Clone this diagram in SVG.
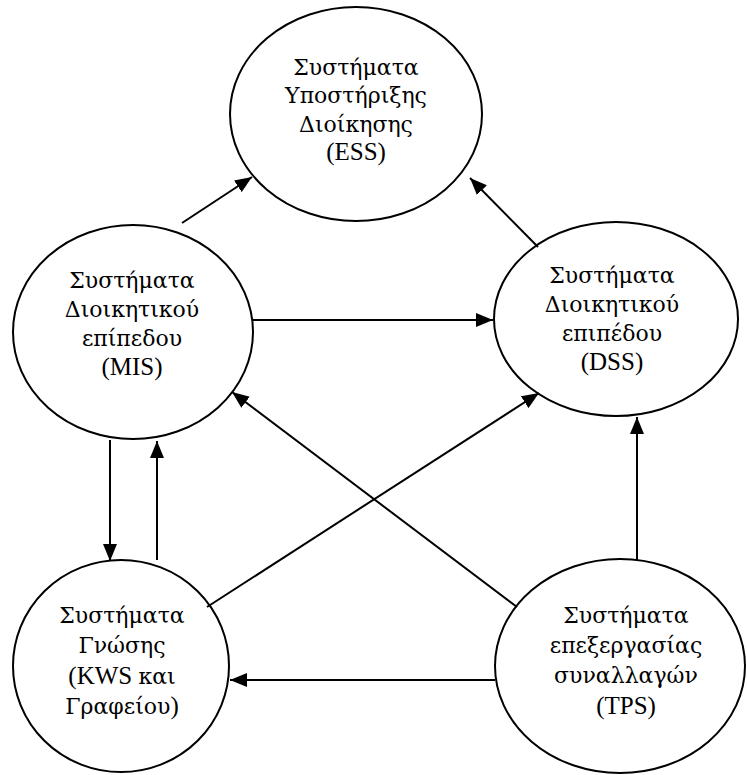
<svg xmlns="http://www.w3.org/2000/svg" width="747" height="775" viewBox="0 0 747 775">
  <style>
    .node ellipse { fill: #ffffff; stroke: #000000; stroke-width: 2; }
    .node text { font-family: "Liberation Serif", "DejaVu Serif", serif; font-size: 25px; fill: #000000; text-anchor: middle; }
    .node .gr { font-family: "DejaVu Serif", "Liberation Serif", serif; font-size: 22px; }
    .edges line { stroke: #000000; stroke-width: 2; marker-end: url(#arrow); }
  </style>
  <defs>
    <marker id="arrow" markerUnits="userSpaceOnUse" markerWidth="18" markerHeight="14" refX="17" refY="7" orient="auto">
      <path d="M0,0 L17,7 L0,14 z" fill="#000000"/>
    </marker>
  </defs>
  <rect width="747" height="775" fill="#ffffff"/>

  <g id="ess" class="node">
    <ellipse cx="356" cy="114" rx="126" ry="107"/>
    <text class="gr" x="356" y="75">Συστήματα</text>
    <text class="gr" x="356" y="103">Υποστήριξης</text>
    <text class="gr" x="356" y="132">Διοίκησης</text>
    <text x="356" y="160">(ESS)</text>
  </g>

  <g id="mis" class="node">
    <ellipse cx="133" cy="332" rx="120" ry="107"/>
    <text class="gr" x="132" y="288">Συστήματα</text>
    <text class="gr" x="132" y="317">Διοικητικού</text>
    <text class="gr" x="132" y="346">επίπεδου</text>
    <text x="132" y="375">(MIS)</text>
  </g>

  <g id="dss" class="node">
    <ellipse cx="616" cy="319" rx="122" ry="97"/>
    <text class="gr" x="612" y="283">Συστήματα</text>
    <text class="gr" x="612" y="312">Διοικητικού</text>
    <text class="gr" x="612" y="341">επιπέδου</text>
    <text x="612" y="370">(DSS)</text>
  </g>

  <g id="kws" class="node">
    <ellipse cx="121" cy="666" rx="108" ry="106"/>
    <text class="gr" x="122" y="623">Συστήματα</text>
    <text class="gr" x="122" y="653">Γνώσης</text>
    <text x="122" y="684">(KWS <tspan class="gr">και</tspan></text>
    <text class="gr" x="122" y="714">Γραφείου<tspan font-family="Liberation Serif" font-size="25">)</tspan></text>
  </g>

  <g id="tps" class="node">
    <ellipse cx="620" cy="666" rx="125" ry="107"/>
    <text class="gr" x="626" y="623">Συστήματα</text>
    <text class="gr" x="626" y="653">επεξεργασίας</text>
    <text class="gr" x="626" y="683">συναλλαγών</text>
    <text x="626" y="714">(TPS)</text>
  </g>

  <g id="connectors" class="edges">
    <line x1="182" y1="223" x2="252" y2="177"/>
    <line x1="538" y1="247" x2="470" y2="178"/>
    <line x1="253" y1="320" x2="493" y2="320"/>
    <line x1="110" y1="440" x2="110" y2="561"/>
    <line x1="157" y1="560" x2="157" y2="441"/>
    <line x1="207" y1="607" x2="539" y2="393"/>
    <line x1="517" y1="607" x2="232" y2="392"/>
    <line x1="637" y1="560" x2="637" y2="417"/>
    <line x1="495" y1="680" x2="230" y2="680"/>
  </g>
</svg>
